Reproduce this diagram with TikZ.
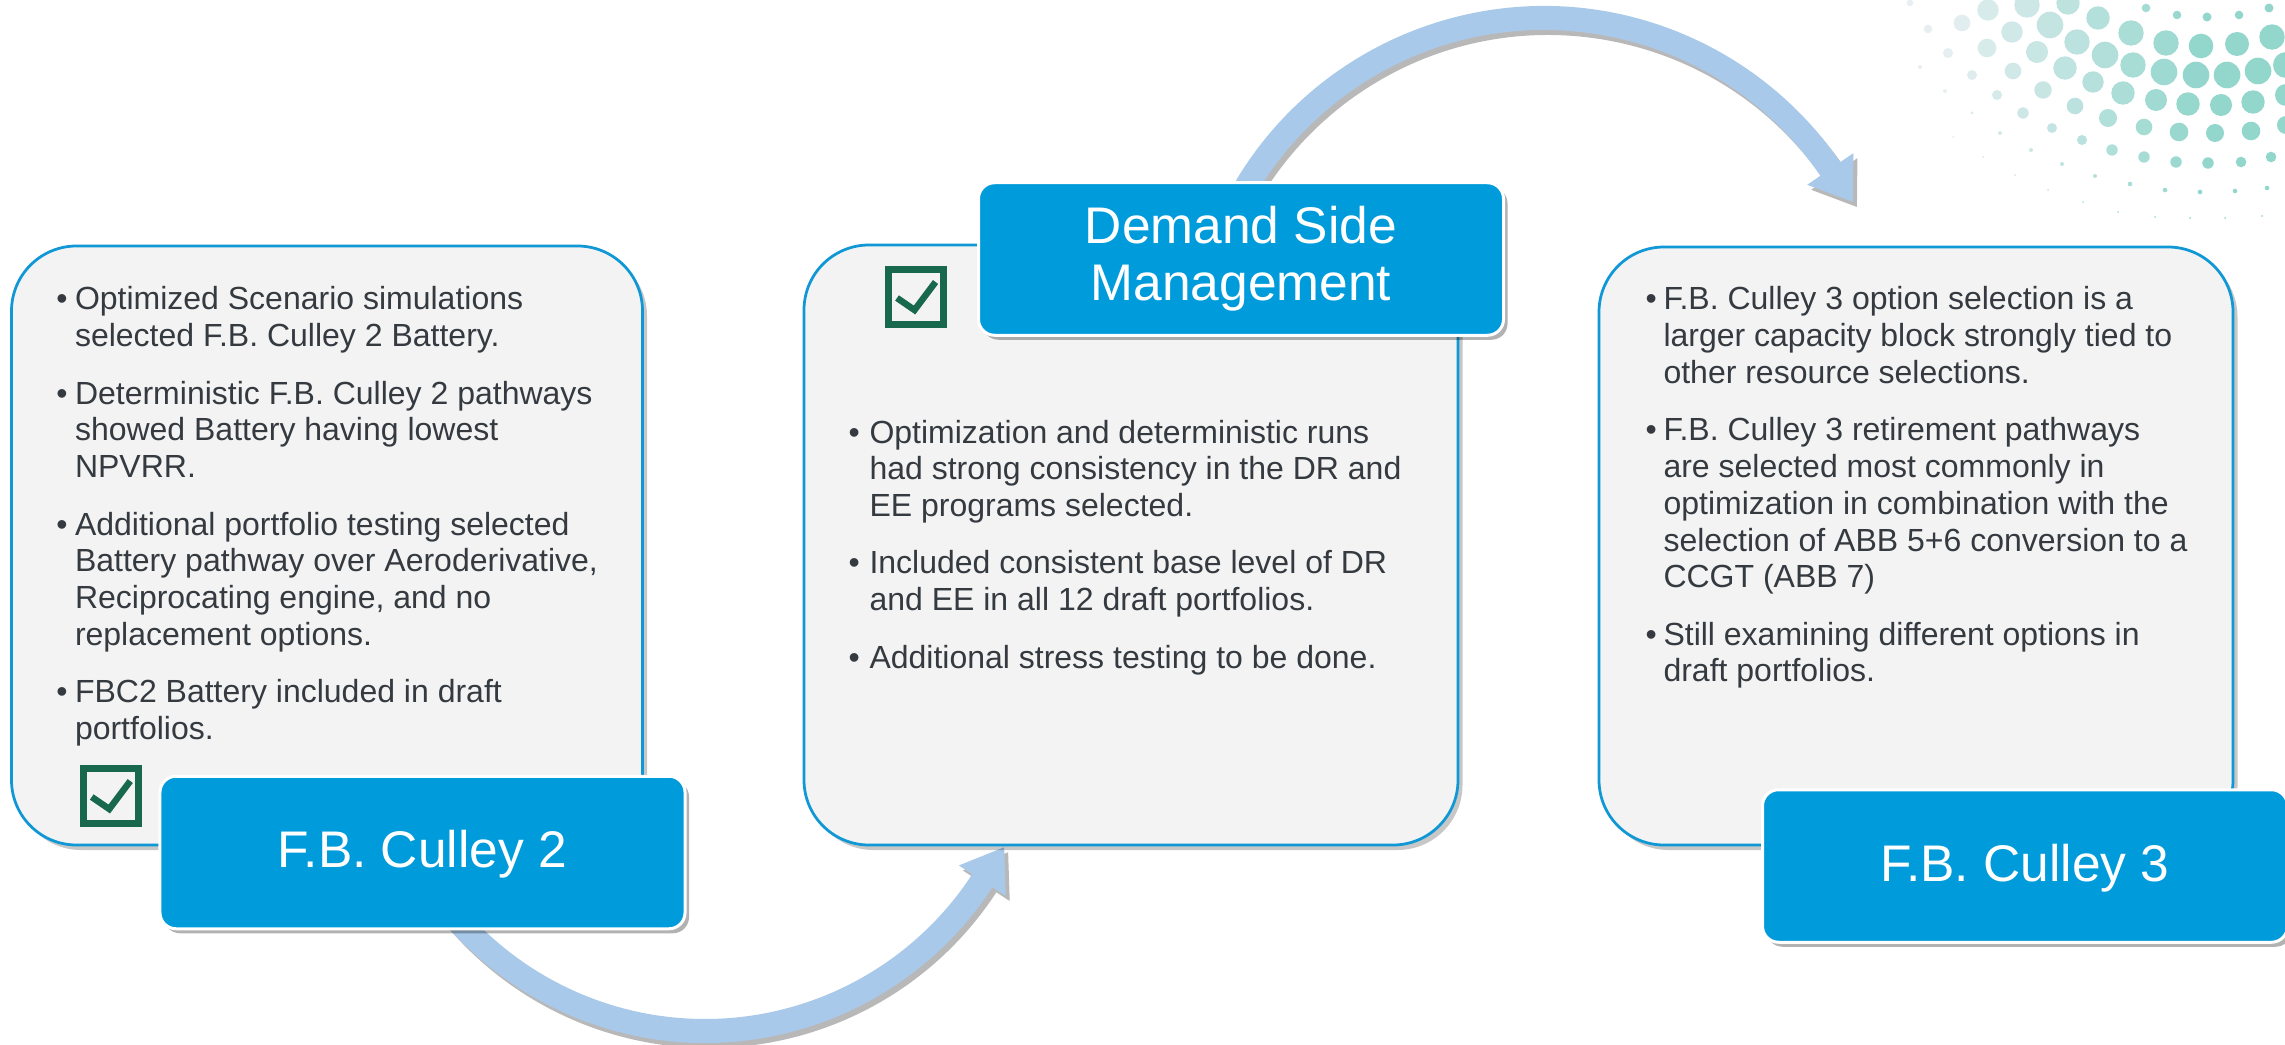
\documentclass[tikz,border=0pt]{standalone}
\usepackage{fontspec}
\setmainfont{Liberation Sans}
\usetikzlibrary{shadows,calc}
\definecolor{boxblue}{RGB}{0,155,219}
\definecolor{edgeblue}{RGB}{16,152,214}
\definecolor{panel}{RGB}{243,243,243}
\definecolor{chkgreen}{RGB}{24,104,78}
\definecolor{arrowblue}{RGB}{169,201,234}
\definecolor{bodytext}{RGB}{52,58,64}
\definecolor{dotL}{RGB}{232,239,242}
\definecolor{dotR}{RGB}{146,214,204}
\newcommand\bodyfont{\fontsize{12.8pt}{14.7pt}\selectfont}
\newcommand\titlefont{\fontsize{20.6pt}{22.8pt}\selectfont}
\tikzset{
 gbox/.style={draw=edgeblue, line width=1.1pt, fill=panel, rounded corners=26pt, inner sep=0pt,
   drop shadow={shadow xshift=1.8pt, shadow yshift=-2pt, opacity=0.22, fill=black}},
 tbox/.style={draw=white, line width=1.2pt, fill=boxblue, rounded corners=6.4pt, inner sep=0pt,
   minimum width=210pt, minimum height=61pt, text=white, font=\titlefont,
   drop shadow={shadow xshift=1.6pt, shadow yshift=-1.8pt, opacity=0.3, fill=black}},
 chk/.style={draw=chkgreen, line width=2.7pt, minimum size=22.1pt, inner sep=0pt},
 tick/.style={draw=chkgreen, line width=2.6pt},
 txt/.style={anchor=base west, inner sep=0pt, text=bodytext, font=\bodyfont},
 arrowshape/.style={fill=arrowblue, drop shadow={shadow xshift=1.6pt, shadow yshift=-2pt, opacity=0.28, fill=black}},
}
\begin{document}
\begin{tikzpicture}[x=0.4pt, y=-0.4pt]
\useasboundingbox (0,0) rectangle (2285,1045);
\clip (0,0) rectangle (2285,1045);
\fill[white] (0,0) rectangle (2285,1045);

% halftone dots (top right)
\foreach \x/\y/\r in {1910/3/3.3, 1928/29/4.3, 1920/67/2, 1945/91/2, 1953/137/1, 1962/23/8.3,
  1948/53/5, 1972/75/5, 1972/113/1.7, 1983/157/1, 1988/10/10.7, 1987/48/9.3, 1997/95/5,
  2000/133/2, 2015/175/1, 2027/5/12.7, 2012/32/10.7, 2013/71/8.3, 2023/113/5.7, 2031/150/2,
  2048/190/1, 2068/3/11.7, 2050/25/13.3, 2037/52/11, 2043/90/8.7, 2052/128/5, 2062/164/2,
  2083/202/1, 2098/18/11.7, 2077/42/12.7, 2065/68/11.7, 2075/106/8.3, 2082/140/5, 2095/176/2,
  2118/212/1, 2131/33/12.7, 2105/55/13.3, 2093/82/10.7, 2123/93/11.7, 2108/118/9, 2112/150/5.7,
  2130/184/2.3, 2155/217/1, 2133/65/12.7, 2146/8/4.3, 2166/43/12.7, 2164/72/13.3, 2156/100/11,
  2144/127/8.3, 2144/157/5.7, 2165/190/2.3, 2177/15/4.3, 2207/17/4.5, 2239/15/4.3, 2269/8/4.5,
  2201/46/12.3, 2237/44/12, 2272/37/12.7, 2196/75/13.3, 2227/75/13.3, 2258/71/13.3, 2286/65/13,
  2188/104/11.7, 2221/105/11, 2253/102/11.7, 2286/95/11, 2179/132/9.3, 2215/133/9, 2251/131/9.3,
  2286/125/9, 2176/162/5.7, 2208/163/5.7, 2241/162/5.3, 2271/157/5.3, 2200/192/2.3, 2235/191/2.3,
  2267/188/2.3, 2190/218/1, 2225/218/1, 2262/216/1}
{
  \pgfmathtruncatemacro\p{max(0,min(100,(\x-1940)/2.6))}
  \fill[dotR!\p!dotL] (\x,\y) circle[radius=\r];
}

% arrows
\coordinate (c1) at (705,700);
\coordinate (c2) at (1544,365);
\fill[arrowshape] ($(c1)+(145:343)$) arc[start angle=145, end angle=33.1, radius=343]
  -- ($(c1)+(33.1:359)$) -- ($(c1)+(33.1:331)+(-56.9:40)$) -- ($(c1)+(33.1:303)$)
  -- ($(c1)+(33.1:319)$) arc[start angle=33.1, end angle=145, radius=319] -- cycle;
\fill[arrowshape] ($(c2)+(205:359)$) arc[start angle=205, end angle=325.6, radius=359]
  -- ($(c2)+(325.6:375)$) -- ($(c2)+(325.6:347)+(55.6:40)$) -- ($(c2)+(325.6:319)$)
  -- ($(c2)+(325.6:335)$) arc[start angle=325.6, end angle=205, radius=335] -- cycle;

% panels
\node[gbox, minimum width=252.4pt, minimum height=239.6pt] (p1) at (327,545.5) {};
\node[gbox, minimum width=261.6pt, minimum height=240pt] (p2) at (1131,545) {};
\node[gbox, minimum width=253.6pt, minimum height=239.2pt] (p3) at (1916,546) {};

% check boxes
\node[chk] (chk1) at (110.75,796) {};
\node[chk] (chk2) at (916,297) {};
\draw[tick] ($(chk1.north west)+(12,32)$) -- ($(chk1.north west)+(29.5,44)$) -- ($(chk1.north west)+(50.5,16)$);
\draw[tick] ($(chk2.north west)+(12,32)$) -- ($(chk2.north west)+(29.5,44)$) -- ($(chk2.north west)+(50.5,16)$);

% title boxes
\node[tbox, text height=14.75pt, text depth=2.4pt] (t1) at (422.5,852.5) {F.B. Culley 2};
\node[tbox, align=center] (t2) at (1241,259) {Demand Side\\Management};
\node[tbox, text height=14.75pt, text depth=2.4pt] (t3) at (2025,866) {F.B. Culley 3};

% bullets
\foreach \n/\x/\y in {Ba/56/310, Bb/56/404.2, Bc/56/535.1, Bd/56/702.7,
  Be/848/443, Bf/848/573.9, Bg/848/668.1, Bh/1645/310, Bi/1645/440.9, Bj/1645/645.2}
  \node[txt] (\n) at (\x,\y) {\textbullet};

% left panel text
\foreach \n/\y/\t in {
 La/310/{Optimized Scenario simulations},
 Lb/346.7/{selected F.B. Culley 2 Battery.},
 Lc/404.2/{Deterministic F.B. Culley 2 pathways},
 Ld/440.9/{showed Battery having lowest},
 Le/477.6/{NPVRR.},
 Lf/535.1/{Additional portfolio testing selected},
 Lg/571.8/{Battery pathway over Aeroderivative,},
 Lh/608.5/{Reciprocating engine, and no},
 Li/645.2/{replacement options.},
 Lj/702.7/{FBC2 Battery included in draft},
 Lk/739.4/{portfolios.}}
 \node[txt] (\n) at (74.5,\y) {\t};

% middle panel text
\foreach \n/\y/\t in {
 Ma/443/{Optimization and deterministic runs},
 Mb/479.7/{had strong consistency in the DR and},
 Mc/516.4/{EE programs selected.},
 Md/573.9/{Included consistent base level of DR},
 Me/610.6/{and EE in all 12 draft portfolios.},
 Mf/668.1/{Additional stress testing to be done.}}
 \node[txt] (\n) at (869,\y) {\t};

% right panel text
\foreach \n/\y/\t in {
 Ra/310/{F.B. Culley 3 option selection is a},
 Rb/346.7/{larger capacity block strongly tied to},
 Rc/383.4/{other resource selections.},
 Rd/440.9/{F.B. Culley 3 retirement pathways},
 Re/477.6/{are selected most commonly in},
 Rf/514.3/{optimization in combination with the},
 Rg/551/{selection of ABB 5+6 conversion to a},
 Rh/587.7/{CCGT (ABB 7)},
 Ri/645.2/{Still examining different options in},
 Rj/681.9/{draft portfolios.}}
 \node[txt] (\n) at (1663,\y) {\t};
\end{tikzpicture}
\end{document}
